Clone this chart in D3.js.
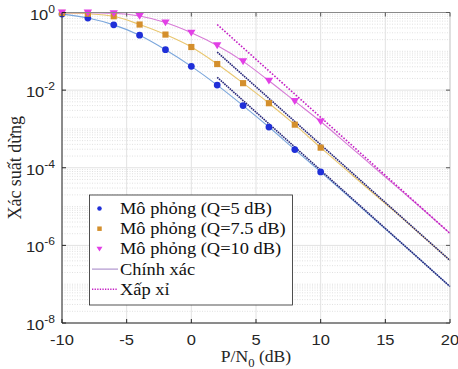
<!DOCTYPE html>
<html>
<head>
<meta charset="utf-8">
<script src="https://cdn.jsdelivr.net/npm/d3@7"></script>
<style>
  html, body { margin: 0; padding: 0; background: #fff; }
  svg { display: block; }
</style>
</head>
<body>
<svg id="chart" width="458" height="369"></svg>
<script>
// ---------------- DATA ----------------
const snrSim = [-10, -8, -6, -4, -2, 0, 2, 4, 6, 8, 10];
const simQ5  = [0.91, 0.72, 0.48, 0.26, 0.11, 0.041, 0.0135, 0.0040, 0.00112, 2.95e-4, 7.8e-5];
const simQ75 = [0.975, 0.93, 0.80, 0.49, 0.27, 0.129, 0.047, 0.0151, 0.0046, 0.00129, 3.3e-4];
const simQ10 = [0.995, 0.99, 0.955, 0.81, 0.55, 0.30, 0.141, 0.055, 0.0174, 0.0052, 0.00155];

const snrExact = [-10, -8, -6, -4, -2, 0, 2, 4, 6, 8, 10, 12, 14, 16, 18, 20];
const exactQ5  = [0.91, 0.72, 0.48, 0.26, 0.11, 0.041, 0.0135, 0.0040, 0.00112, 2.95e-4, 7.8e-5, 2.04e-5, 5.2e-6, 1.35e-6, 3.5e-7, 8.7e-8];
const exactQ75 = [0.975, 0.93, 0.80, 0.49, 0.27, 0.129, 0.047, 0.0151, 0.0046, 0.00129, 3.3e-4, 8.7e-5, 2.3e-5, 6.2e-6, 1.58e-6, 4.1e-7];
const exactQ10 = [0.995, 0.99, 0.955, 0.81, 0.55, 0.30, 0.141, 0.055, 0.0174, 0.0052, 0.00155, 4.2e-4, 1.12e-4, 3.0e-5, 7.9e-6, 2.04e-6];

const snrApprox = [2, 20];
const approxQ5  = [0.0214, 8.7e-8];
const approxQ75 = [0.0955, 4.1e-7];
const approxQ10 = [0.49, 2.04e-6];

const xTicks = [-10, -5, 0, 5, 10, 15, 20];
const yTickExps = [0, -2, -4, -6, -8];
const legendLabels = ["Mô phỏng (Q=5 dB)", "Mô phỏng (Q=7.5 dB)", "Mô phỏng (Q=10 dB)", "Chính xác", "Xấp xỉ"];
const xLabel = ["P/N", "0", " (dB)"];
const yLabel = "Xác suất dừng";

// ---------------- LAYOUT ----------------
const L = 62, R = 450, T = 12.5, B = 323;
const svg = d3.select("#chart");
svg.append("rect").attr("width", 458).attr("height", 369).attr("fill", "#fff");

const x = d3.scaleLinear().domain([-10, 20]).range([L, R]);
const y = d3.scaleLog().domain([1e-8, 1]).range([B, T]);

const col = {
  q5m: "#1f2fd8", q5l: "#7aa6dc",
  q75m: "#d48f2c", q75l: "#e9c66e",
  q10m: "#e23fe6", q10l: "#d77ad6",
  apNavy: "#27277a", apMag: "#c41fc4",
  legLine: "#a98bc9"
};
const serif = "'Liberation Serif', 'Times New Roman', Times, serif";
const sans = "'Liberation Sans', Arial, Helvetica, sans-serif";

// grid
const g = svg.append("g");
for (let e = -8; e < 0; e++) {
  for (let k = 1; k <= 9; k++) {
    const v = k * Math.pow(10, e);
    if (k === 1 && e % 2 === 0) continue;
    g.append("line").attr("x1", L).attr("x2", R).attr("y1", y(v)).attr("y2", y(v))
      .attr("stroke", "#d9d9d9").attr("stroke-width", 0.8).attr("stroke-dasharray", "1,1.5");
  }
}
yTickExps.forEach(e => {
  g.append("line").attr("x1", L).attr("x2", R).attr("y1", y(Math.pow(10, e))).attr("y2", y(Math.pow(10, e)))
    .attr("stroke", "#e2e2e2").attr("stroke-width", 1);
});
xTicks.forEach(t => {
  g.append("line").attr("x1", x(t)).attr("x2", x(t)).attr("y1", T).attr("y2", B)
    .attr("stroke", "#e2e2e2").attr("stroke-width", 1);
});

// lines
const line = d3.line().x(d => x(d[0])).y(d => y(d[1])).curve(d3.curveMonotoneX);
const zip = (a, b) => a.map((v, i) => [v, b[i]]);

const plot = svg.append("g");
[[exactQ5, col.q5l], [exactQ75, col.q75l], [exactQ10, col.q10l]].forEach(([arr, c]) => {
  plot.append("path").attr("d", line(zip(snrExact, arr))).attr("fill", "none")
    .attr("stroke", c).attr("stroke-width", 1.1);
});
[[approxQ5, col.apNavy, "1.6,0.8"], [approxQ75, col.apNavy, "1.6,0.8"], [approxQ10, col.apMag, "1.6,1.6"]].forEach(([arr, c, da]) => {
  plot.append("path").attr("d", d3.line().x(d => x(d[0])).y(d => y(d[1]))(zip(snrApprox, arr)))
    .attr("fill", "none").attr("stroke", c).attr("stroke-width", 1.6).attr("stroke-dasharray", da);
});

// markers
const circ = d3.symbol().type(d3.symbolCircle).size(36);
const sq = d3.symbol().type(d3.symbolSquare).size(38);
const triDown = (cx, cy, s) => `M${cx - s},${cy - s * 0.75}L${cx + s},${cy - s * 0.75}L${cx},${cy + s * 0.9}Z`;

zip(snrSim, simQ5).forEach(d => {
  plot.append("path").attr("d", circ()).attr("transform", `translate(${x(d[0])},${y(d[1])})`).attr("fill", col.q5m);
});
zip(snrSim, simQ75).forEach(d => {
  plot.append("path").attr("d", sq()).attr("transform", `translate(${x(d[0])},${y(d[1])})`).attr("fill", col.q75m);
});
zip(snrSim, simQ10).forEach(d => {
  plot.append("path").attr("d", triDown(x(d[0]), y(d[1]), 4.2)).attr("fill", col.q10m);
});

// axes box
const ax = svg.append("g");
ax.append("line").attr("x1", L).attr("x2", R).attr("y1", T).attr("y2", T).attr("stroke", "#8a8a8a").attr("stroke-width", 1);
ax.append("line").attr("x1", R).attr("x2", R).attr("y1", T).attr("y2", B).attr("stroke", "#c8c8c8").attr("stroke-width", 0.8);
ax.append("line").attr("x1", L).attr("x2", L).attr("y1", T).attr("y2", B).attr("stroke", "#262626").attr("stroke-width", 1);
ax.append("line").attr("x1", L).attr("x2", R).attr("y1", B).attr("y2", B).attr("stroke", "#262626").attr("stroke-width", 1);

// x ticks
xTicks.forEach(t => {
  ax.append("line").attr("x1", x(t)).attr("x2", x(t)).attr("y1", B).attr("y2", B - 4).attr("stroke", "#262626");
  ax.append("line").attr("x1", x(t)).attr("x2", x(t)).attr("y1", T).attr("y2", T + 4).attr("stroke", "#555");
  ax.append("text").attr("transform", `translate(${x(t)},345) scale(1.1,1)`)
    .attr("text-anchor", "middle").attr("font-family", sans)
    .attr("font-size", 15).attr("fill", "#262626").text(t);
});
// y ticks
yTickExps.forEach(e => {
  const yy = y(Math.pow(10, e));
  ax.append("line").attr("x1", L).attr("x2", L + 4).attr("y1", yy).attr("y2", yy).attr("stroke", "#262626");
  ax.append("line").attr("x1", R).attr("x2", R - 4).attr("y1", yy).attr("y2", yy).attr("stroke", "#555");
  const tx = ax.append("text").attr("transform", `translate(55,${yy + 7}) scale(1.1,1)`)
    .attr("text-anchor", "end").attr("font-family", sans)
    .attr("font-size", 15).attr("fill", "#262626");
  tx.append("tspan").text("10");
  tx.append("tspan").attr("font-size", 11).attr("dy", -7).text(e === 0 ? "0" : "-" + Math.abs(e));
});

// axis labels
const xl = svg.append("text").attr("transform", "translate(256,362) scale(1.1,1)")
  .attr("text-anchor", "middle").attr("font-family", serif)
  .attr("font-size", 16).attr("fill", "#262626");
xl.append("tspan").text(xLabel[0]);
xl.append("tspan").attr("font-size", 11.5).attr("dy", 4.5).text(xLabel[1]);
xl.append("tspan").attr("dy", -4.5).text(xLabel[2]);

svg.append("text").attr("transform", `translate(21,${(T + B) / 2}) rotate(-90)`)
  .attr("text-anchor", "middle").attr("font-family", serif)
  .attr("font-size", 18).attr("fill", "#262626").text(yLabel);

// legend
const lg = svg.append("g");
lg.append("rect").attr("x", 89.5).attr("y", 195).attr("width", 203).attr("height", 110)
  .attr("fill", "#fff").attr("stroke", "#262626").attr("stroke-width", 0.8);
const rowY = i => 208.5 + i * 20.2;
lg.append("path").attr("d", d3.symbol().type(d3.symbolCircle).size(16)()).attr("transform", `translate(99.5,${rowY(0)})`).attr("fill", col.q5m);
lg.append("path").attr("d", d3.symbol().type(d3.symbolSquare).size(20)()).attr("transform", `translate(99.5,${rowY(1)})`).attr("fill", col.q75m);
lg.append("path").attr("d", triDown(99.5, rowY(2), 3)).attr("fill", col.q10m);
lg.append("line").attr("x1", 92).attr("x2", 118).attr("y1", rowY(3)).attr("y2", rowY(3)).attr("stroke", col.legLine).attr("stroke-width", 1.1);
lg.append("line").attr("x1", 92).attr("x2", 118).attr("y1", rowY(4)).attr("y2", rowY(4)).attr("stroke", col.apMag).attr("stroke-width", 1.4).attr("stroke-dasharray", "1.3,1.3");
legendLabels.forEach((s, i) => {
  lg.append("text").attr("transform", `translate(120,${rowY(i) + 5.5}) scale(1.15,1)`)
    .attr("font-family", serif)
    .attr("font-size", 16).attr("fill", "#111").text(s);
});
</script>
</body>
</html>
